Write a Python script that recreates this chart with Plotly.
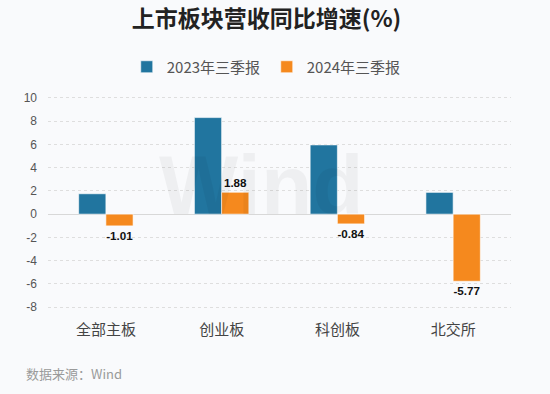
import plotly.graph_objects as go

categories = ["全部主板", "创业板", "科创板", "北交所"]
series_2023 = [1.75, 8.3, 5.95, 1.87]
series_2024 = [-1.01, 1.88, -0.84, -5.77]
series_names = ["2023年三季报", "2024年三季报"]
y_ticks = [10, 8, 6, 4, 2, 0, -2, -4, -6, -8]

BLUE = "#21759f"
ORANGE = "#f5891e"
BG = "#f9fafc"
CJK = "Noto Sans CJK SC"
LAT = "Liberation Sans"

fig = go.Figure()
fig.add_trace(go.Bar(
    x=categories, y=series_2023, name=series_names[0],
    marker=dict(color=BLUE, line=dict(color="white", width=0.6)),
))
fig.add_trace(go.Bar(
    x=categories, y=series_2024, name=series_names[1],
    marker=dict(color=ORANGE, line=dict(color="white", width=0.6)),
    texttemplate="<b>%{y:.2f}</b>", textposition="outside",
    textfont=dict(family=LAT, size=13, color="#111"),
    cliponaxis=False,
))

fig.update_layout(
    width=550, height=394,
    paper_bgcolor=BG, plot_bgcolor=BG,
    margin=dict(l=48, r=39, t=92, b=81, autoexpand=False),
    barmode="group", bargap=0.53, bargroupgap=0,
    title=dict(text="<b>上市板块营收同比增速(%)</b>", x=266.5 / 550, xanchor="center",
               xref="container", yref="container",
               y=1 - 19 / 394, yanchor="middle",
               font=dict(family=CJK, size=23, color="#222")),
    legend=dict(orientation="h", xref="container", yref="container",
                x=0.485, xanchor="center", y=1 - 67 / 394, yanchor="middle",
                font=dict(family=CJK, size=15, color="#555"),
                itemwidth=30, entrywidth=95, bgcolor="rgba(0,0,0,0)"),
    showlegend=True,
    uniformtext=dict(minsize=8, mode="show"),
)
fig.update_xaxes(
    tickfont=dict(family=CJK, size=15, color="#444"),
    showgrid=False, showline=False, ticks="", ticklabelstandoff=6,
    automargin=False,
)
fig.update_yaxes(
    range=[-8.5, 10.5], tickvals=y_ticks, ticktext=[str(v) for v in y_ticks],
    tickfont=dict(family=LAT, size=12, color="#555"),
    showgrid=True, gridcolor="#dedede", griddash="dot", gridwidth=1,
    zeroline=True, zerolinecolor="#d8d8d8", zerolinewidth=1.2,
    showline=False, ticks="", ticklabelstandoff=10, automargin=False,
)

fig.add_annotation(text="<b>Wind</b>", xref="paper", yref="paper", x=0.462, y=0.58,
                   showarrow=False, font=dict(family=LAT, size=84, color="rgba(0,0,0,0.045)"))
fig.add_annotation(text="数据来源：Wind", xref="paper", yref="paper", x=-24 / 463,
                   xanchor="left", y=-(373 - 313) / 221, yanchor="middle", showarrow=False,
                   font=dict(family=CJK, size=13, color="#9a9a9a"))

fig.write_html(
    "out.html",
    config={"displayModeBar": False},
    post_script="document.body.style.margin='0';document.body.style.background='%s';" % BG,
)
